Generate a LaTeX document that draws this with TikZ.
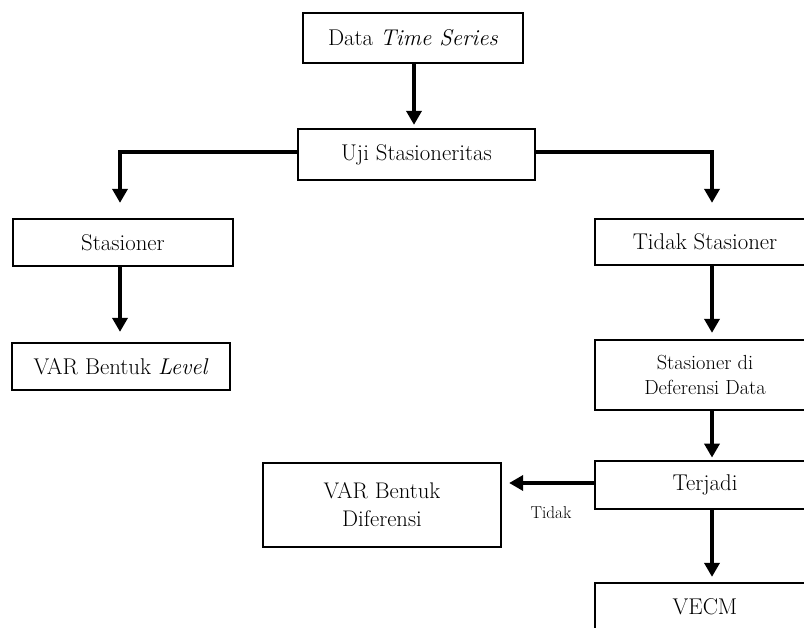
\documentclass[tikz,border=0pt]{standalone}
\usepackage{fontspec}
\usetikzlibrary{arrows.meta}
\tikzset{
  box/.style={draw, line width=2.8pt, inner sep=0pt, align=center, font=\fontsize{22.8}{27}\selectfont},
  arr/.style={line width=4pt, -{Triangle[width=15pt,length=14pt]}},
  lbl/.style={font=\fontsize{17.2}{20}\selectfont},
}
\begin{document}
\begin{tikzpicture}[x=1pt,y=-1pt]
\useasboundingbox (0,0) rectangle (804,628);
\clip (0,0) rectangle (804,628);
\node[box, minimum width=220pt, minimum height=50pt] (data) at (413,38) {Data \textit{Time Series}};
\node[box, minimum width=237pt, minimum height=51pt] (uji) at (416.5,154.5) {Uji Stasioneritas};
\node[box, minimum width=220pt, minimum height=47pt] (stas) at (123,242.5) {Stasioner};
\node[box, minimum width=220pt, minimum height=46pt] (tidak) at (705,242) {Tidak Stasioner};
\node[box, minimum width=218pt, minimum height=47pt] (level) at (121,366.5) {VAR Bentuk \textit{Level}};
\node[box, minimum width=220pt, minimum height=70pt, font=\fontsize{20.4}{25}\selectfont] (def) at (705,375) {Stasioner di\\Deferensi Data};
\node[box, minimum width=220pt, minimum height=48pt] (terjadi) at (705,485) {Terjadi};
\node[box, minimum width=238pt, minimum height=84pt, font=\fontsize{22.6}{28}\selectfont] (vard) at (382,505) {VAR Bentuk\\Diferensi};
\node[box, minimum width=220pt, minimum height=48pt] (vecm) at (705,607) {VECM};
\node[lbl] (tlbl) at (551,513) {Tidak};

\draw[arr, shorten >=2.75pt] ([xshift=1pt]data.south) -- ([xshift=1pt]data.south |- uji.north);
\draw[arr, shorten >=14.75pt] ([yshift=2.5pt]uji.west) -| ([xshift=-3pt]stas.north);
\draw[arr, shorten >=14.75pt] ([yshift=2.5pt]uji.east) -| ([xshift=7pt]tidak.north);
\draw[arr, shorten >=9.75pt] ([xshift=-3pt]stas.south) -- ([xshift=-3pt]stas.south |- level.north);
\draw[arr, shorten >=5.75pt] ([xshift=7pt]tidak.south) -- ([xshift=7pt]def.north);
\draw[arr, shorten >=2pt] ([xshift=7pt]def.south) -- ([xshift=7pt]terjadi.north);
\draw[arr, shorten >=6.75pt] ([yshift=2pt]terjadi.west) -- ([yshift=2pt]terjadi.west -| vard.east);
\draw[arr, shorten >=4.75pt] ([xshift=7pt]terjadi.south) -- ([xshift=7pt]vecm.north);
\end{tikzpicture}
\end{document}
